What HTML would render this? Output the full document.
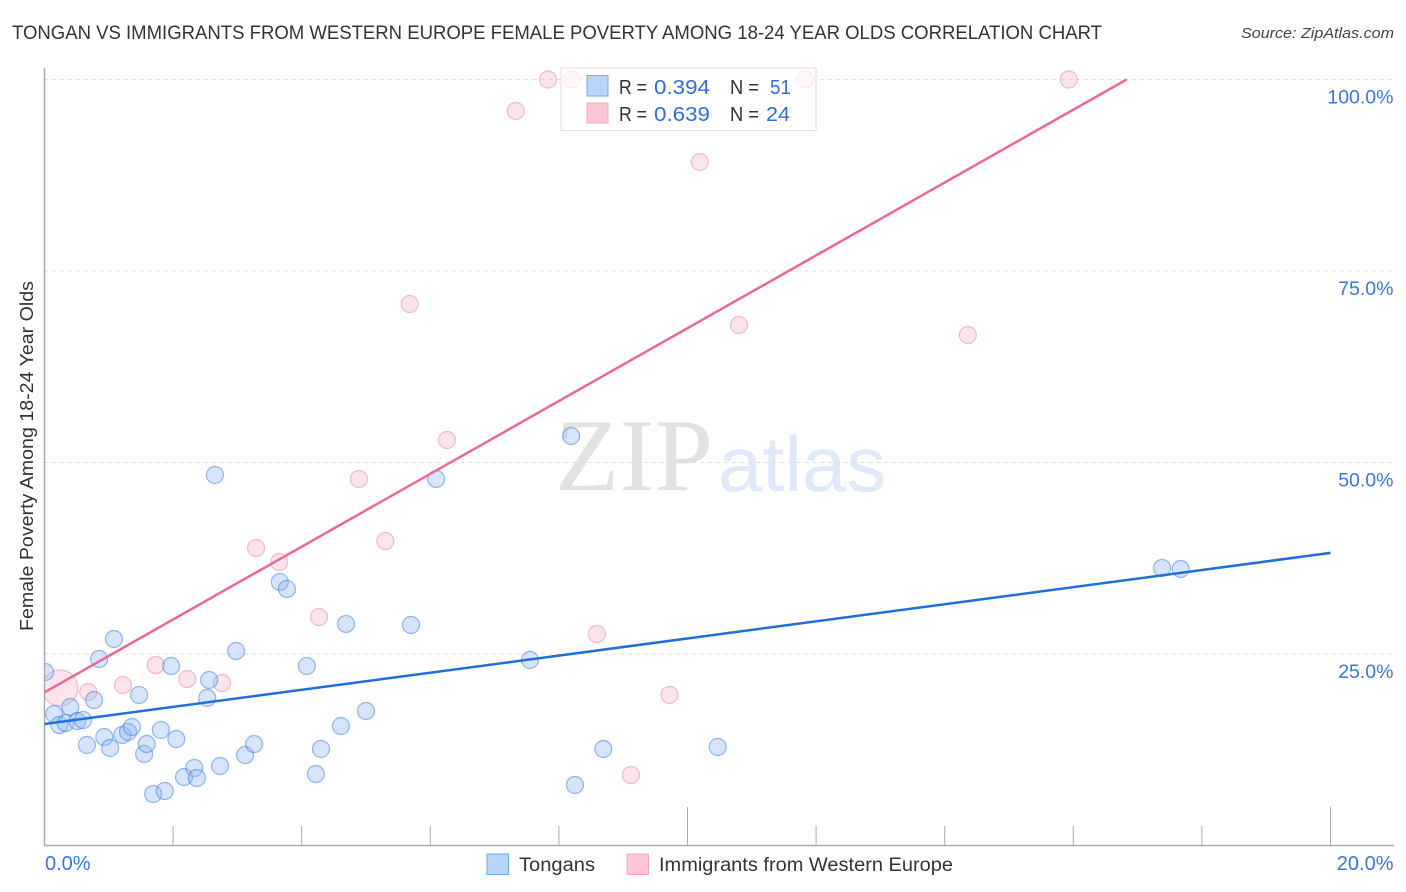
<!DOCTYPE html>
<html>
<head>
<meta charset="utf-8">
<title>Tongan vs Immigrants from Western Europe Correlation Chart</title>
<style>
html,body{margin:0;padding:0;background:#fff;}
svg{display:block;font-family:"Liberation Sans",sans-serif;}
</style>
</head>
<body>
<svg id="chart" width="1406" height="892" viewBox="0 0 1406 892" xmlns="http://www.w3.org/2000/svg">
  <defs><clipPath id="plot-clip"><rect x="45" y="60" width="1349" height="785"/></clipPath></defs>
  <text x="12" y="39" font-size="19" fill="#333" textLength="1090" lengthAdjust="spacingAndGlyphs">TONGAN VS IMMIGRANTS FROM WESTERN EUROPE FEMALE POVERTY AMONG 18-24 YEAR OLDS CORRELATION CHART</text>
  <text x="1241" y="38" font-size="15" font-style="italic" fill="#444" textLength="153" lengthAdjust="spacingAndGlyphs">Source: ZipAtlas.com</text>
  <text transform="translate(33,631) rotate(-90)" font-size="18" fill="#333" textLength="350" lengthAdjust="spacingAndGlyphs">Female Poverty Among 18-24 Year Olds</text>
  <g id="watermark">
    <text x="555" y="490" font-family="'Liberation Serif',serif" font-size="103" fill="#e2e2e2" textLength="158" lengthAdjust="spacingAndGlyphs">ZIP</text>
    <text x="718" y="491" font-size="78" fill="#dfe9f9" textLength="168" lengthAdjust="spacingAndGlyphs">atlas</text>
  </g>
  <g id="grid"></g>
  <g id="axes"></g>
  <g id="points" clip-path="url(#plot-clip)"></g>
  <g id="trends"></g>
  <g>
    <rect x="561" y="68" width="255" height="62.500" fill="#fff" fill-opacity="0.7" stroke="#ddd" stroke-width="1"/>
    <rect x="587" y="75.500" width="21" height="20.500" fill="#b9d4f9" stroke="#79a7e8"/>
    <rect x="587" y="103" width="21" height="20" fill="#fcc6d6" stroke="#f3a9c0"/>
    <text x="619" y="94" font-size="20" fill="#333" textLength="28" lengthAdjust="spacingAndGlyphs">R =</text>
    <text x="654" y="94" font-size="20" fill="#2f6fd6" textLength="56" lengthAdjust="spacingAndGlyphs">0.394</text>
    <text x="730" y="94" font-size="20" fill="#333" textLength="29" lengthAdjust="spacingAndGlyphs">N =</text>
    <text x="770" y="94" font-size="20" fill="#2f6fd6" textLength="21" lengthAdjust="spacingAndGlyphs">51</text>
    <text x="619" y="121" font-size="20" fill="#333" textLength="28" lengthAdjust="spacingAndGlyphs">R =</text>
    <text x="654" y="121" font-size="20" fill="#2f6fd6" textLength="56" lengthAdjust="spacingAndGlyphs">0.639</text>
    <text x="730" y="121" font-size="20" fill="#333" textLength="29" lengthAdjust="spacingAndGlyphs">N =</text>
    <text x="766" y="121" font-size="20" fill="#2f6fd6" textLength="24" lengthAdjust="spacingAndGlyphs">24</text>
  </g>
  <g>
    <rect x="487" y="854" width="21.500" height="20.500" fill="#b9d4f9" stroke="#79a7e8"/>
    <text x="519" y="871" font-size="19" fill="#333" textLength="76" lengthAdjust="spacingAndGlyphs">Tongans</text>
    <rect x="627" y="854" width="21.500" height="20.500" fill="#fcc6d6" stroke="#f3a9c0"/>
    <text x="659" y="871" font-size="19" fill="#333" textLength="294" lengthAdjust="spacingAndGlyphs">Immigrants from Western Europe</text>
  </g>
</svg>
<script>
const tonganX = [0.01,0.15,0.23,0.33,0.40,0.51,0.60,0.66,0.77,0.85,0.93,1.02,1.08,1.21,1.30,1.36,1.47,1.55,1.59,1.69,1.81,1.87,1.97,2.05,2.17,2.33,2.37,2.53,2.56,2.65,2.73,2.98,3.12,3.26,3.66,3.77,4.08,4.22,4.30,4.61,4.69,5.00,5.70,6.09,7.55,8.19,8.25,8.69,10.47,17.38,17.67];
const tonganY = [22.65,17.17,15.73,15.99,18.08,16.25,16.38,13.12,18.99,24.35,14.16,12.73,26.96,14.43,14.82,15.47,19.65,11.95,13.25,6.72,15.08,7.11,23.43,13.90,8.94,10.12,8.81,19.26,21.61,48.37,10.38,25.39,11.81,13.25,34.40,33.49,23.43,9.33,12.60,15.60,28.92,17.56,28.79,47.85,24.22,53.46,7.90,12.60,12.86,36.23,36.10];
const immigrantX = [0.24,0.68,1.22,1.73,2.22,2.76,3.29,3.65,4.27,4.89,5.30,5.68,6.26,7.33,7.83,8.20,8.59,9.12,9.72,10.19,10.80,11.83,14.36,15.93];
const immigrantY = [20.56,20.04,20.95,23.56,21.74,21.21,38.84,37.01,29.83,47.85,39.75,70.69,52.94,95.89,100,100,27.61,9.20,19.65,89.23,67.95,100,66.64,100];
const immigrantWeight = [4.5,1,1,1,1,1,1,1,1,1,1,1,1,1,1,1,1,1,1,1,1,1,1,1];
const tonganTrendX = [0,20];
const tonganTrendY = [15.86,38.2];
const immigrantTrendX = [0,16.83];
const immigrantTrendY = [20,100];
const yTicks = [25,50,75,100];
const yTickLabels = ["25.0%","50.0%","75.0%","100.0%"];
const xTicks = [2,4,6,8,10,12,14,16,18,20];
const xMajorTicks = [10,20];
const xEdgeLabels = ["0.0%","20.0%"];

const NS = 'http://www.w3.org/2000/svg';
const sx = v => 44.5 + v * 64.3;
const sy = v => 845.5 - v * 7.66;
function make(parent, tag, props, text) {
  const el = document.createElementNS(NS, tag);
  for (const k in props) el.setAttribute(k, props[k]);
  if (text !== undefined) el.textContent = text;
  parent.appendChild(el);
  return el;
}
const grid = document.getElementById('grid');
const axes = document.getElementById('axes');
const points = document.getElementById('points');
const trends = document.getElementById('trends');

yTicks.forEach((t, i) => {
  const line = make(grid, 'line', {x1: 44.5, x2: 1393, y1: sy(t), y2: sy(t), stroke: '#ddd', 'stroke-width': 1, 'stroke-dasharray': '4 4'});
  
  
  const label = make(axes, 'text', {x: 1393.500, y: sy(t) + 24, 'text-anchor': 'end', 'font-size': 19.5, fill: '#3b76d8'}, yTickLabels[i]);
  
  
});
const yAxis = make(axes, 'line', {x1: 44.5, x2: 44.5, y1: 68, y2: 846, stroke: '#aaa', 'stroke-width': 1.5});


const xAxis = make(axes, 'line', {x1: 44, x2: 1394, y1: 845.5, y2: 845.5, stroke: '#aaa', 'stroke-width': 1.5});


xTicks.forEach(t => {
  const top = xMajorTicks.includes(t) ? 807 : 826;
  const tick = make(axes, 'line', {x1: sx(t), x2: sx(t), y1: top, y2: 845.5, stroke: '#aaa', 'stroke-width': 1});
  
  
});
const xLabelLeft = make(axes, 'text', {x: 45, y: 870, 'font-size': 20, fill: '#3b76d8'}, xEdgeLabels[0]);


const xLabelRight = make(axes, 'text', {x: 1393.500, y: 870, 'text-anchor': 'end', 'font-size': 20, fill: '#3b76d8'}, xEdgeLabels[1]);



immigrantX.forEach((v, i) => {
  const c = make(points, 'circle', {cx: sx(v), cy: sy(immigrantY[i]), r: 8.5 * Math.sqrt(immigrantWeight[i]), fill: 'rgba(248,170,195,0.32)', stroke: 'rgba(235,125,160,0.5)', 'stroke-width': 1.2});
  
  
});
tonganX.forEach((v, i) => {
  const c = make(points, 'circle', {cx: sx(v), cy: sy(tonganY[i]), r: 8.5, fill: 'rgba(140,182,245,0.36)', stroke: 'rgba(50,120,220,0.5)', 'stroke-width': 1.2});
  
  
});
const trendPink = make(trends, 'line', {x1: sx(immigrantTrendX[0]), y1: sy(immigrantTrendY[0]), x2: sx(immigrantTrendX[1]), y2: sy(immigrantTrendY[1]), stroke: '#e9689a', 'stroke-width': 2.5});


const trendBlue = make(trends, 'line', {x1: sx(tonganTrendX[0]), y1: sy(tonganTrendY[0]), x2: sx(tonganTrendX[1]), y2: sy(tonganTrendY[1]), stroke: '#1f6fdb', 'stroke-width': 2.5});


</script>
</body>
</html>
